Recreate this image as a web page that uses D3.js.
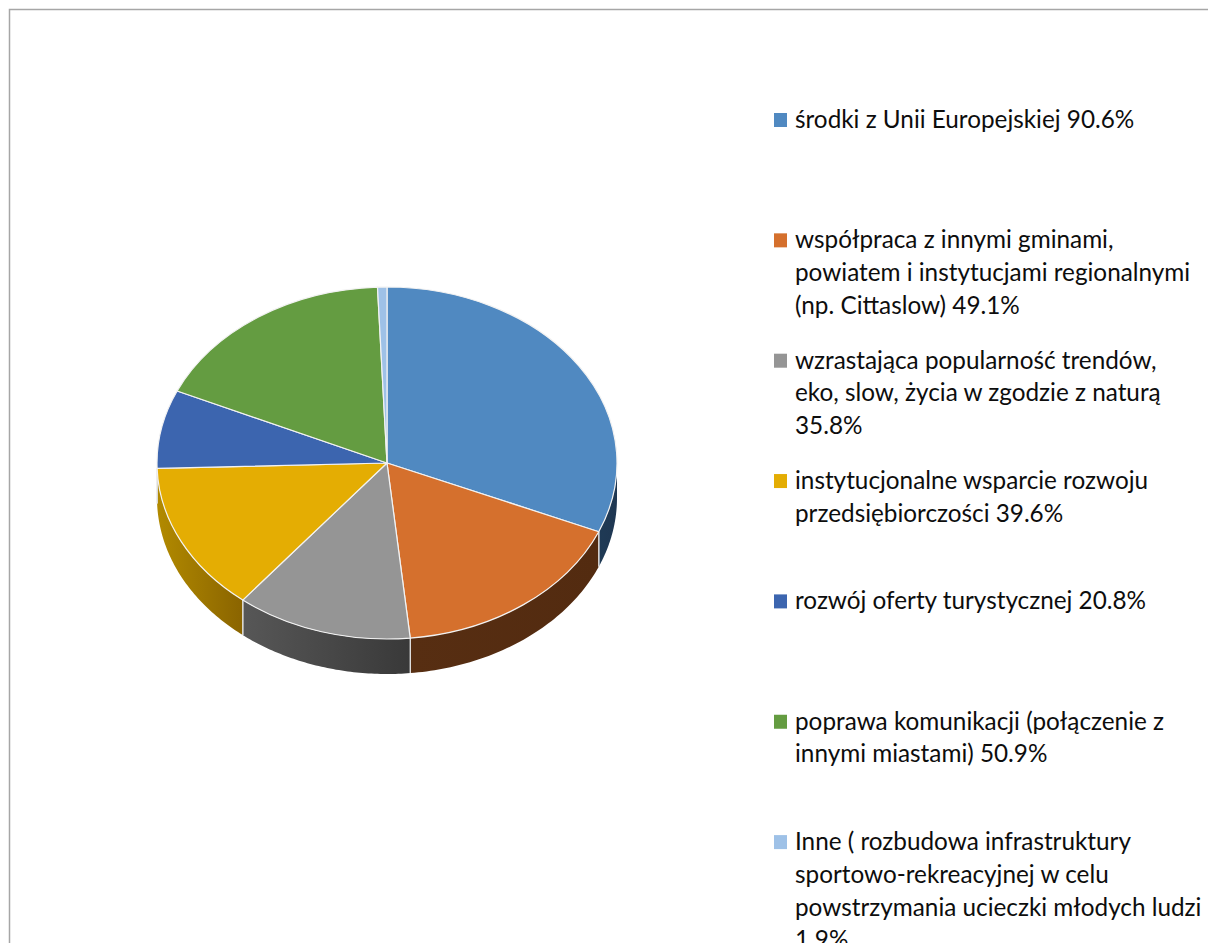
<!DOCTYPE html>
<html>
<head>
<meta charset="utf-8">
<script src="https://cdn.jsdelivr.net/npm/d3@7/dist/d3.min.js"></script>
<style>
html,body{margin:0;padding:0;background:#fff;overflow:hidden;}
svg{display:block;}
</style>
</head>
<body>
<svg id="chart" width="1208" height="943"></svg>
<script>
// ---- data ----
const categories = [
  "środki z Unii Europejskiej",
  "współpraca z innymi gminami,\npowiatem i instytucjami regionalnymi\n(np. Cittaslow)",
  "wzrastająca popularność trendów,\neko, slow, życia w zgodzie z naturą\n",
  "instytucjonalne wsparcie rozwoju\nprzedsiębiorczości",
  "rozwój oferty turystycznej",
  "poprawa komunikacji (połączenie z\ninnymi miastami)",
  "Inne ( rozbudowa infrastruktury\nsportowo-rekreacyjnej w celu\npowstrzymania ucieczki młodych ludzi\n"
];
const values = [90.6, 49.1, 35.8, 39.6, 20.8, 50.9, 1.9];
const topColors  = ["#5089C1", "#D5702D", "#959595", "#E4AD03", "#3C65AF", "#649C41", "#9EC1E7"];
const sideColorsLeft  = ["#1F3A55", "#572E12", "#575757", "#B28A00", "#1B2E52", "#2E4A1E", "#4A5D73"];
const sideColorsRight = ["#1F3752", "#532B10", "#393939", "#8A6400", "#1B2E52", "#2E4A1E", "#4A5D73"];

// ---- layout ----
const svg = d3.select("#chart");
const cx = 387, cy = 463, rx = 230, ry = 176, depth = 35;

// frame
svg.append("rect")
  .attr("x", 9.5).attr("y", 9.5)
  .attr("width", 1400).attr("height", 1200)
  .attr("fill", "#fff").attr("stroke", "#a6a6a6").attr("stroke-width", 1.5);

const pie = d3.pie().sort(null).value(d => d)
  .startAngle(0).endAngle(2 * Math.PI);
const arcs = pie(values);

const px = a => cx + rx * Math.sin(a);
const py = a => cy - ry * Math.cos(a);

const defs = svg.append("defs");

// ---- side walls (front half only: angles between PI/2 and 3PI/2) ----
const sideG = svg.append("g");
arcs.forEach((d, i) => {
  const a0 = Math.max(d.startAngle, Math.PI / 2);
  const a1 = Math.min(d.endAngle, 3 * Math.PI / 2);
  if (a1 <= a0) return;
  const n = 60;
  const pts = [];
  for (let k = 0; k <= n; k++) {
    const a = a0 + (a1 - a0) * k / n;
    pts.push([px(a), py(a)]);
  }
  const bottom = pts.slice().reverse().map(p => [p[0], p[1] + depth]);
  const path = d3.line()(pts.concat(bottom)) + "Z";
  const xs = pts.map(p => p[0]);
  const gid = "side" + i;
  const g = defs.append("linearGradient").attr("id", gid)
    .attr("gradientUnits", "userSpaceOnUse")
    .attr("x1", d3.min(xs)).attr("x2", d3.max(xs)).attr("y1", 0).attr("y2", 0);
  g.append("stop").attr("offset", 0).attr("stop-color", sideColorsLeft[i]);
  g.append("stop").attr("offset", 1).attr("stop-color", sideColorsRight[i]);
  sideG.append("path").attr("d", path)
    .attr("fill", `url(#${gid})`);
  // separator lines on the wall at slice edges
  [d.startAngle, d.endAngle].forEach(a => {
    if (a > Math.PI / 2 + 0.001 && a < 3 * Math.PI / 2 - 0.001) {
      sideG.append("line")
        .attr("x1", px(a)).attr("y1", py(a))
        .attr("x2", px(a)).attr("y2", py(a) + depth)
        .attr("stroke", "#e6e6e6").attr("stroke-width", 1.2);
    }
  });
});

// ---- top face ----
const arcGen = d3.arc().innerRadius(0).outerRadius(rx);
const topG = svg.append("g")
  .attr("transform", `translate(${cx},${cy}) scale(1,${ry / rx})`);
topG.selectAll("path").data(arcs).join("path")
  .attr("d", arcGen)
  .attr("fill", (d, i) => topColors[i])
  .attr("stroke", "#f2f2f2")
  .attr("stroke-width", 1.2)
  .attr("stroke-linejoin", "round")
  .attr("vector-effect", "non-scaling-stroke");

// ---- legend ----
const legendX = 774, legendY0 = 120, legendStep = 120.35, lineH = 32.7;
const legend = svg.append("g");
categories.forEach((c, i) => {
  const lines = (c + (c.endsWith("\n") ? "" : " ") + values[i].toFixed(1) + "%").split("\n");
  const yc = legendY0 + i * legendStep;
  legend.append("rect")
    .attr("x", legendX).attr("y", yc - 7)
    .attr("width", 13).attr("height", 14)
    .attr("fill", topColors[i]);
  const t = legend.append("text")
    .attr("x", legendX + 21).attr("y", yc + 8)
    .attr("font-family", "Lato, 'Open Sans', sans-serif")
    .attr("font-size", 24.3)
    .attr("fill", "#0d0d0d");
  lines.forEach((ln, j) => {
    t.append("tspan").attr("x", legendX + 21).attr("y", yc + 8 + j * lineH).text(ln);
  });
});
</script>
</body>
</html>
